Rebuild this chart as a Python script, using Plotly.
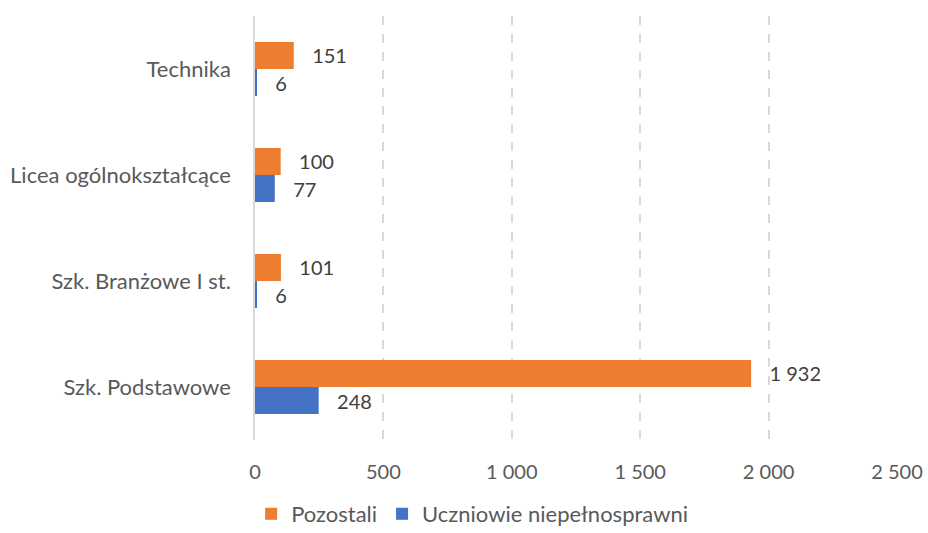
import plotly.graph_objects as go

# Liczba uczniów wg typu szkoły
categories = ["Szk. Podstawowe", "Szk. Branżowe I st.", "Licea ogólnokształcące", "Technika"]
pozostali = [1932, 101, 100, 151]
niepelnosprawni = [248, 6, 77, 6]
x_ticks = [0, 500, 1000, 1500, 2000, 2500]

ORANGE = "#ED7D31"
BLUE = "#4472C4"
FONT = "Lato"
NBSP = "\u00a0"


def fmt(v):
    return f"{v:,}".replace(",", " ")


def labels(values):
    return [NBSP * 3 + fmt(v) for v in values]


fig = go.Figure()
fig.add_trace(go.Bar(
    y=categories, x=niepelnosprawni, orientation="h",
    name="Uczniowie niepełnosprawni", marker=dict(color=BLUE, line=dict(width=0)),
    text=labels(niepelnosprawni), textposition="outside", cliponaxis=False,
    constraintext="none", textfont=dict(family=FONT, size=20, color="#404040"),
    hoverinfo="x+name",
))
fig.add_trace(go.Bar(
    y=categories, x=pozostali, orientation="h",
    name="Pozostali", marker=dict(color=ORANGE, line=dict(width=0)),
    text=labels(pozostali), textposition="outside", cliponaxis=False,
    constraintext="none", textfont=dict(family=FONT, size=20, color="#404040"),
    hoverinfo="x+name",
))

fig.update_layout(
    width=928, height=533,
    margin=dict(l=255, r=31, t=16, b=93, autoexpand=False),
    paper_bgcolor="white", plot_bgcolor="white",
    barmode="group", bargap=0.49, bargroupgap=0,
    separators=", ",
    font=dict(family=FONT, size=20, color="#595959"),
    showlegend=True,
    legend=dict(
        orientation="h", traceorder="reversed",
        x=-0.006, xanchor="left",
        y=-0.125, yanchor="top",
        font=dict(family=FONT, size=22, color="#595959"),
        itemsizing="constant",
    ),
)
fig.update_xaxes(
    range=[0, 2500], tickvals=x_ticks, tickformat=",d",
    showgrid=True, gridcolor="#d9d9d9", gridwidth=1.5, griddash="dash",
    zeroline=False, showline=False, ticks="",
    ticklabelstandoff=18, automargin=False,
    tickfont=dict(family=FONT, size=20, color="#595959"),
)
fig.update_yaxes(
    type="category", categoryorder="array", categoryarray=categories,
    showgrid=False, zeroline=False,
    showline=True, linecolor="#d9d9d9", linewidth=1.5,
    ticks="", ticklabelstandoff=18, automargin=False,
    tickfont=dict(family=FONT, size=22, color="#595959"),
)

fig.write_html("out.html")
